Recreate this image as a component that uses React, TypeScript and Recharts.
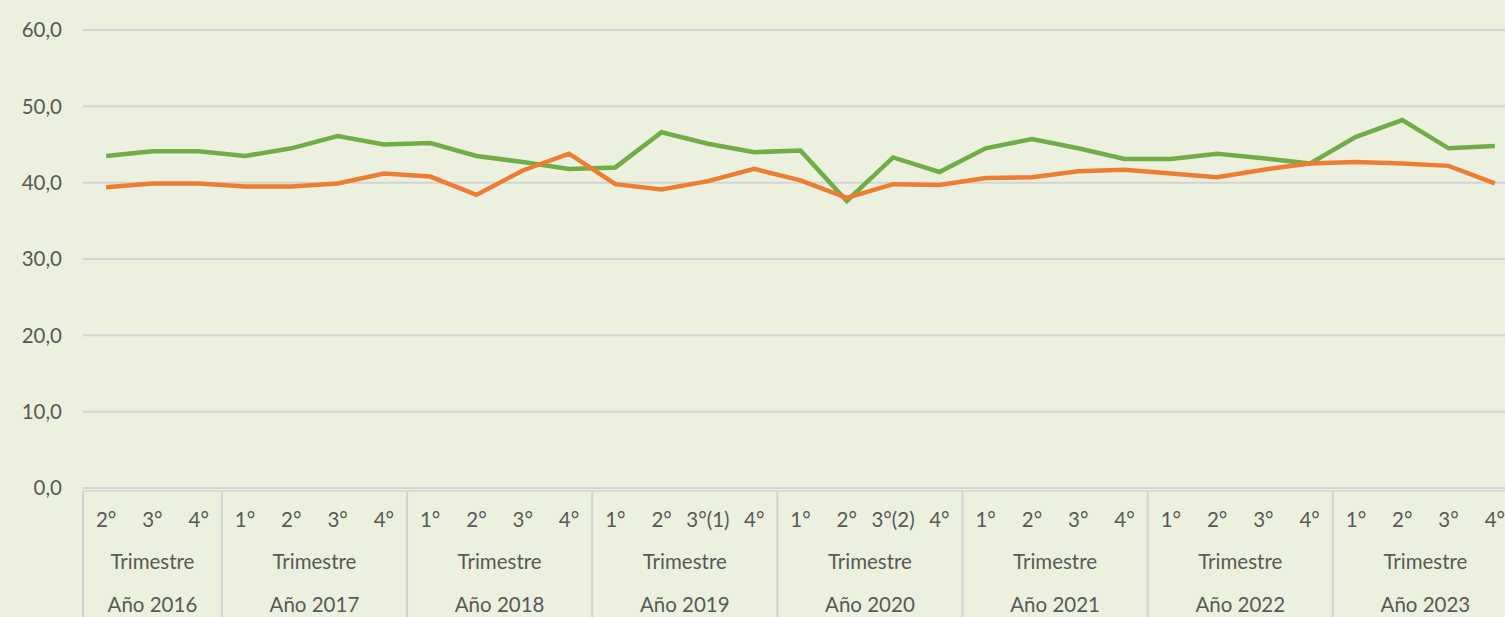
import { LineChart, Line, XAxis, YAxis, CartesianGrid } from 'recharts'

const quarters = [
  '2°', '3°', '4°',
  '1°', '2°', '3°', '4°',
  '1°', '2°', '3°', '4°',
  '1°', '2°', '3°(1)', '4°',
  '1°', '2°', '3°(2)', '4°',
  '1°', '2°', '3°', '4°',
  '1°', '2°', '3°', '4°',
  '1°', '2°', '3°', '4°',
]
const years = [
  2016, 2016, 2016,
  2017, 2017, 2017, 2017,
  2018, 2018, 2018, 2018,
  2019, 2019, 2019, 2019,
  2020, 2020, 2020, 2020,
  2021, 2021, 2021, 2021,
  2022, 2022, 2022, 2022,
  2023, 2023, 2023, 2023,
]
const serieVerde = [
  43.5, 44.1, 44.1,
  43.5, 44.5, 46.1, 45.0,
  45.2, 43.5, 42.7, 41.8,
  42.0, 46.6, 45.1, 44.0,
  44.2, 37.6, 43.3, 41.4,
  44.5, 45.7, 44.5, 43.1,
  43.1, 43.8, 43.2, 42.5,
  46.0, 48.2, 44.5, 44.8,
]
const serieNaranja = [
  39.4, 39.9, 39.9,
  39.5, 39.5, 39.9, 41.2,
  40.8, 38.4, 41.6, 43.8,
  39.8, 39.1, 40.2, 41.8,
  40.3, 38.0, 39.8, 39.7,
  40.6, 40.7, 41.5, 41.7,
  41.2, 40.7, 41.7, 42.5,
  42.7, 42.5, 42.2, 39.9,
]
const yTicks = [0, 10, 20, 30, 40, 50, 60]

const data = quarters.map((q, i) => ({
  key: `${years[i]}-${q}`,
  verde: serieVerde[i],
  naranja: serieNaranja[i],
}))

const CHART_W = 1520
const CHART_H = 640
const Y_W = 83
const MARGIN_R = 2
// ancho de cada categoría (el eje reparte el área en bandas)
const STEP = (CHART_W - Y_W - MARGIN_R) / data.length

const FONT = 'Lato, "Open Sans", sans-serif'
const TXT = '#595959'
const LINE_GRAY = '#d3d3d3'

function CategoryTick({ x, y, payload }: any) {
  const i = payload.index
  const yr = years[i]
  const start = years.indexOf(yr)
  const n = years.filter(v => v === yr).length
  const pos = i - start
  const mid = Math.floor((n - 1) / 2)
  const cx = x + ((n - 1) / 2 - pos) * STEP
  return (
    <g fontFamily={FONT} fontSize={20.5} fill={TXT}>
      <line x1={x - STEP / 2} x2={x + STEP / 2} y1={y + 3} y2={y + 3} stroke={LINE_GRAY} strokeWidth={1.5} />
      {pos === 0 && (
        <line x1={x - STEP / 2} x2={x - STEP / 2} y1={y + 3} y2={y + 150} stroke={LINE_GRAY} strokeWidth={2} />
      )}
      <text x={x} y={y + 39} textAnchor="middle">{quarters[i]}</text>
      {pos === mid && (
        <>
          <text x={cx} y={y + 81} textAnchor="middle">Trimestre</text>
          <text x={cx} y={y + 124} textAnchor="middle">Año {yr}</text>
        </>
      )}
    </g>
  )
}

export default function App() {
  return (
    <div style={{ position: 'fixed', left: 0, top: 0, width: 1505, height: 617, overflow: 'hidden', background: '#ebf1de' }}>
      <LineChart width={CHART_W} height={CHART_H} data={data} margin={{ top: 30, right: MARGIN_R, left: 0, bottom: 0 }}>
        <CartesianGrid vertical={false} stroke={LINE_GRAY} strokeWidth={2} />
        <XAxis
          dataKey="key"
          height={CHART_H - 30 - 458}
          interval={0}
          tickSize={0}
          tickMargin={0}
          padding={{ left: STEP / 2, right: STEP / 2 }}
          axisLine={{ stroke: LINE_GRAY, strokeWidth: 2 }}
          tick={<CategoryTick />}
        />
        <YAxis
          width={Y_W}
          domain={[0, 60]}
          ticks={yTicks}
          axisLine={false}
          tickLine={false}
          tickMargin={15}
          tick={{ fill: TXT, fontSize: 20.5, fontFamily: FONT }}
          tickFormatter={(v: number) => v.toFixed(1).replace('.', ',')}
        />
        <Line type="linear" dataKey="verde" stroke="#70ad47" strokeWidth={4.5} dot={false} isAnimationActive={false} />
        <Line type="linear" dataKey="naranja" stroke="#ed7d31" strokeWidth={4.5} dot={false} isAnimationActive={false} />
      </LineChart>
    </div>
  )
}
